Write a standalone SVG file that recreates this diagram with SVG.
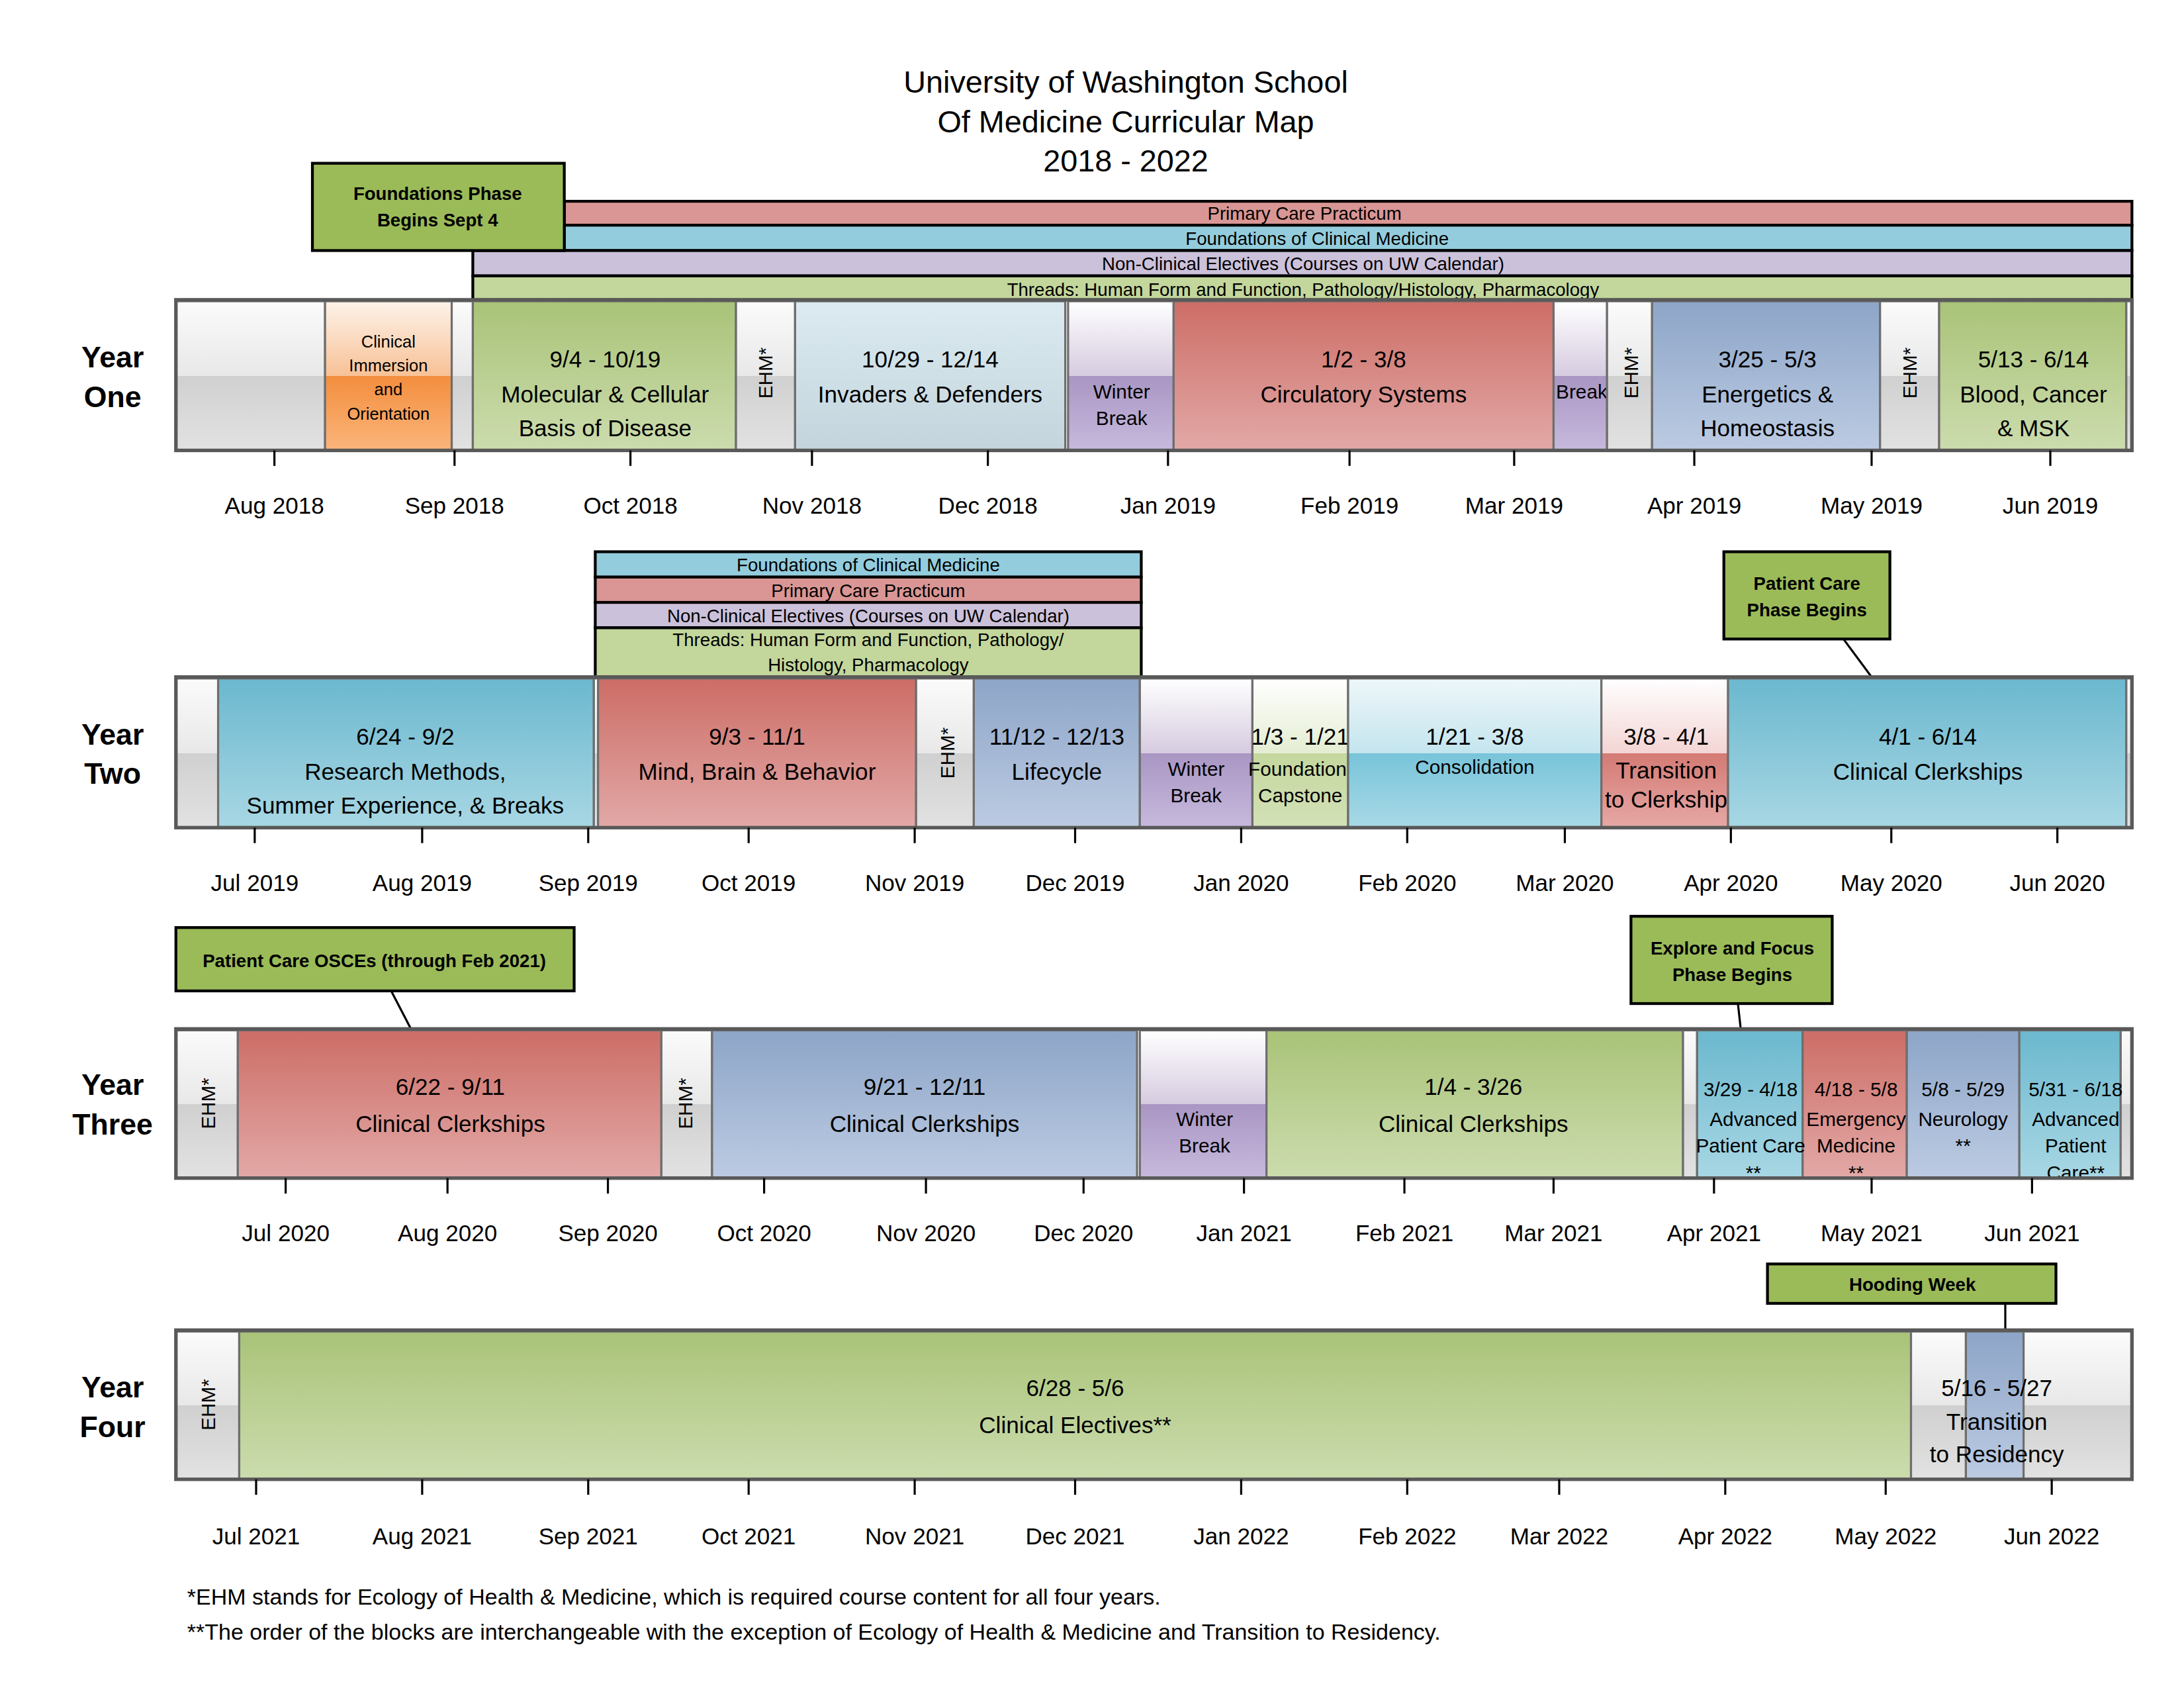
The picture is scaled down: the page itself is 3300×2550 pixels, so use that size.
<svg xmlns="http://www.w3.org/2000/svg" width="3300" height="2550" viewBox="0 0 3300 2550">
<defs>
<linearGradient id="gGray" x1="0" y1="0" x2="0" y2="1"><stop offset="0" stop-color="#fbfbfb"/><stop offset="0.5" stop-color="#e8e8e8"/><stop offset="0.5" stop-color="#d0d0d0"/><stop offset="1" stop-color="#e2e2e2"/></linearGradient>
<linearGradient id="gOrange" x1="0" y1="0" x2="0" y2="1"><stop offset="0" stop-color="#fdf3ea"/><stop offset="0.5" stop-color="#f8c196"/><stop offset="0.5" stop-color="#f38e3e"/><stop offset="1" stop-color="#fbb57b"/></linearGradient>
<linearGradient id="gGreen" x1="0" y1="0" x2="0" y2="1"><stop offset="0" stop-color="#a9c378"/><stop offset="1" stop-color="#ccdcae"/></linearGradient>
<linearGradient id="gBlueL" x1="0" y1="0" x2="0" y2="1"><stop offset="0" stop-color="#dbebf1"/><stop offset="1" stop-color="#c4d4dc"/></linearGradient>
<linearGradient id="gPurple" x1="0" y1="0" x2="0" y2="1"><stop offset="0" stop-color="#ffffff"/><stop offset="0.5" stop-color="#d6cbe0"/><stop offset="0.5" stop-color="#a996c3"/><stop offset="1" stop-color="#c7b9dd"/></linearGradient>
<linearGradient id="gRed" x1="0" y1="0" x2="0" y2="1"><stop offset="0" stop-color="#cd6d66"/><stop offset="1" stop-color="#e2a9a7"/></linearGradient>
<linearGradient id="gBlueGray" x1="0" y1="0" x2="0" y2="1"><stop offset="0" stop-color="#8da5c8"/><stop offset="1" stop-color="#bccbe2"/></linearGradient>
<linearGradient id="gBlue" x1="0" y1="0" x2="0" y2="1"><stop offset="0" stop-color="#6bb8ce"/><stop offset="1" stop-color="#a8d7e4"/></linearGradient>
<linearGradient id="gCap" x1="0" y1="0" x2="0" y2="1"><stop offset="0" stop-color="#ffffff"/><stop offset="0.5" stop-color="#e4edd2"/><stop offset="0.5" stop-color="#c4d79e"/><stop offset="1" stop-color="#d3e1b7"/></linearGradient>
<linearGradient id="gCons" x1="0" y1="0" x2="0" y2="1"><stop offset="0" stop-color="#eef7fa"/><stop offset="0.5" stop-color="#c4e5ee"/><stop offset="0.5" stop-color="#78c4da"/><stop offset="1" stop-color="#a9d9e6"/></linearGradient>
<linearGradient id="gTrans" x1="0" y1="0" x2="0" y2="1"><stop offset="0" stop-color="#ffffff"/><stop offset="0.5" stop-color="#f3d5d4"/><stop offset="0.5" stop-color="#d47a74"/><stop offset="1" stop-color="#e6a8a5"/></linearGradient>
</defs>
<style>
text{font-family:"Liberation Sans",Arial,sans-serif;fill:#000}
.t{font-size:22px}
.yl{font-size:21px;font-weight:bold}
.b{font-size:16.5px}
.s{font-size:12px}
.m{font-size:14px}
.ax{font-size:16.5px}
.band{font-size:13px}
.co{font-size:13px;font-weight:bold}
.fn{font-size:16px}
.seg{stroke:#6e6e6e;stroke-width:1.5}
.bar{fill:none;stroke:#595959;stroke-width:2.5}
.bd{stroke:#000;stroke-width:2}
.cb{fill:#9bbb59;stroke:#000;stroke-width:2}
.tick{stroke:#000;stroke-width:1.5}
.ln{stroke:#000;stroke-width:1.5;fill:none}
</style>
<g transform="scale(2.1263)">
<g id="title" text-anchor="middle"><text class="t" x="800" y="66">University of Washington School</text><text class="t" x="800" y="94">Of Medicine Curricular Map</text><text class="t" x="800" y="122">2018 - 2022</text></g>

<g id="connectors">
<line class="ln" x1="337" y1="178" x2="377" y2="213"/>
<line class="ln" x1="1310" y1="454" x2="1330" y2="481"/>
<line class="ln" x1="278" y1="704" x2="292" y2="731"/>
<line class="ln" x1="1235" y1="713" x2="1237" y2="731"/>
<line class="ln" x1="1425" y1="926" x2="1425" y2="945"/>
</g>

<!-- Year One -->
<g id="year1" text-anchor="middle">
<text class="yl" x="80" y="261">Year</text><text class="yl" x="80" y="289">One</text>
<rect class="bd" x="401" y="143" width="1114" height="17" fill="#d99694"/><text class="band" x="927" y="156">Primary Care Practicum</text>
<rect class="bd" x="401" y="160" width="1114" height="18" fill="#93cddd"/><text class="band" x="936" y="174">Foundations of Clinical Medicine</text>
<rect class="bd" x="336" y="178" width="1179" height="18" fill="#ccc1da"/><text class="band" x="926" y="192">Non-Clinical Electives (Courses on UW Calendar)</text>
<rect class="bd" x="336" y="196" width="1179" height="17" fill="#c3d69b"/><text class="band" x="926" y="210">Threads: Human Form and Function, Pathology/Histology, Pharmacology</text>
<rect class="seg" x="125" y="214" width="106" height="106" fill="url(#gGray)"/>
<rect class="seg" x="231" y="214" width="90" height="106" fill="url(#gOrange)"/>
<text class="s" x="276" y="247">Clinical</text><text class="s" x="276" y="264">Immersion</text><text class="s" x="276" y="281">and</text><text class="s" x="276" y="298">Orientation</text>
<rect class="seg" x="321" y="214" width="15" height="106" fill="url(#gGray)"/>
<rect class="seg" x="336" y="214" width="187" height="106" fill="url(#gGreen)"/>
<text class="b" x="430" y="261">9/4 - 10/19</text><text class="b" x="430" y="286">Molecular &amp; Cellular</text><text class="b" x="430" y="310">Basis of Disease</text>
<rect class="seg" x="523" y="214" width="42" height="106" fill="url(#gGray)"/>
<text class="m" transform="translate(549,265) rotate(-90)">EHM*</text>
<rect class="seg" x="565" y="214" width="192" height="106" fill="url(#gBlueL)"/>
<text class="b" x="661" y="261">10/29 - 12/14</text><text class="b" x="661" y="286">Invaders &amp; Defenders</text>
<rect class="seg" x="759" y="214" width="75" height="106" fill="url(#gPurple)"/>
<text class="m" x="797" y="283">Winter</text><text class="m" x="797" y="302">Break</text>
<rect class="seg" x="834" y="214" width="270" height="106" fill="url(#gRed)"/>
<text class="b" x="969" y="261">1/2 - 3/8</text><text class="b" x="969" y="286">Circulatory Systems</text>
<rect class="seg" x="1104" y="214" width="38" height="106" fill="url(#gPurple)"/>
<text class="m" x="1124" y="283">Break</text>
<rect class="seg" x="1142" y="214" width="32" height="106" fill="url(#gGray)"/>
<text class="m" transform="translate(1164,265) rotate(-90)">EHM*</text>
<rect class="seg" x="1174" y="214" width="162" height="106" fill="url(#gBlueGray)"/>
<text class="b" x="1256" y="261">3/25 - 5/3</text><text class="b" x="1256" y="286">Energetics &amp;</text><text class="b" x="1256" y="310">Homeostasis</text>
<rect class="seg" x="1336" y="214" width="42" height="106" fill="url(#gGray)"/>
<text class="m" transform="translate(1362,265) rotate(-90)">EHM*</text>
<rect class="seg" x="1378" y="214" width="133" height="106" fill="url(#gGreen)"/>
<text class="b" x="1445" y="261">5/13 - 6/14</text><text class="b" x="1445" y="286">Blood, Cancer</text><text class="b" x="1445" y="310">&amp; MSK</text>
<rect class="seg" x="1511" y="214" width="4" height="106" fill="url(#gGray)"/>
<rect class="bar" x="125" y="213" width="1390" height="107"/>
<g class="tick"><line x1="195" y1="320" x2="195" y2="331"/><line x1="323" y1="320" x2="323" y2="331"/><line x1="448" y1="320" x2="448" y2="331"/><line x1="577" y1="320" x2="577" y2="331"/><line x1="702" y1="320" x2="702" y2="331"/><line x1="830" y1="320" x2="830" y2="331"/><line x1="959" y1="320" x2="959" y2="331"/><line x1="1076" y1="320" x2="1076" y2="331"/><line x1="1204" y1="320" x2="1204" y2="331"/><line x1="1330" y1="320" x2="1330" y2="331"/><line x1="1457" y1="320" x2="1457" y2="331"/></g>
<text class="ax" x="195" y="365">Aug 2018</text><text class="ax" x="323" y="365">Sep 2018</text><text class="ax" x="448" y="365">Oct 2018</text><text class="ax" x="577" y="365">Nov 2018</text><text class="ax" x="702" y="365">Dec 2018</text><text class="ax" x="830" y="365">Jan 2019</text><text class="ax" x="959" y="365">Feb 2019</text><text class="ax" x="1076" y="365">Mar 2019</text><text class="ax" x="1204" y="365">Apr 2019</text><text class="ax" x="1330" y="365">May 2019</text><text class="ax" x="1457" y="365">Jun 2019</text>
</g>
<g id="callout-foundations" text-anchor="middle"><rect class="cb" x="222" y="116" width="179" height="62"/><text class="co" x="311" y="142">Foundations Phase</text><text class="co" x="311" y="161">Begins Sept 4</text></g>

<!-- Year Two -->
<g id="year2" text-anchor="middle">
<text class="yl" x="80" y="529">Year</text><text class="yl" x="80" y="557">Two</text>
<rect class="bd" x="423" y="392" width="388" height="18" fill="#93cddd"/><text class="band" x="617" y="406">Foundations of Clinical Medicine</text>
<rect class="bd" x="423" y="410" width="388" height="18" fill="#d99694"/><text class="band" x="617" y="424">Primary Care Practicum</text>
<rect class="bd" x="423" y="428" width="388" height="18" fill="#ccc1da"/><text class="band" x="617" y="442">Non-Clinical Electives (Courses on UW Calendar)</text>
<rect class="bd" x="423" y="446" width="388" height="35" fill="#c3d69b"/><text class="band" x="617" y="459">Threads: Human Form and Function, Pathology/</text><text class="band" x="617" y="477">Histology, Pharmacology</text>
<rect class="seg" x="125" y="482" width="30" height="106" fill="url(#gGray)"/>
<rect class="seg" x="155" y="482" width="267" height="106" fill="url(#gBlue)"/>
<text class="b" x="288" y="529">6/24 - 9/2</text><text class="b" x="288" y="554">Research Methods,</text><text class="b" x="288" y="578">Summer Experience, &amp; Breaks</text>
<rect class="seg" x="422" y="482" width="3" height="106" fill="url(#gGray)"/>
<rect class="seg" x="425" y="482" width="226" height="106" fill="url(#gRed)"/>
<text class="b" x="538" y="529">9/3 - 11/1</text><text class="b" x="538" y="554">Mind, Brain &amp; Behavior</text>
<rect class="seg" x="651" y="482" width="41" height="106" fill="url(#gGray)"/>
<text class="m" transform="translate(678,535) rotate(-90)">EHM*</text>
<rect class="seg" x="692" y="482" width="118" height="106" fill="url(#gBlueGray)"/>
<text class="b" x="751" y="529">11/12 - 12/13</text><text class="b" x="751" y="554">Lifecycle</text>
<rect class="seg" x="810" y="482" width="80" height="106" fill="url(#gPurple)"/>
<text class="m" x="850" y="551">Winter</text><text class="m" x="850" y="570">Break</text>
<rect class="seg" x="890" y="482" width="68" height="106" fill="url(#gCap)"/>
<text class="b" x="924" y="529">1/3 - 1/21</text><text class="m" x="922" y="551">Foundation</text><text class="m" x="924" y="570">Capstone</text>
<rect class="seg" x="958" y="482" width="180" height="106" fill="url(#gCons)"/>
<text class="b" x="1048" y="529">1/21 - 3/8</text><text class="m" x="1048" y="550">Consolidation</text>
<rect class="seg" x="1138" y="482" width="90" height="106" fill="url(#gTrans)"/>
<text class="b" x="1184" y="529">3/8 - 4/1</text><text class="b" x="1184" y="553">Transition</text><text class="b" x="1184" y="574">to Clerkship</text>
<rect class="seg" x="1228" y="482" width="283" height="106" fill="url(#gBlue)"/>
<text class="b" x="1370" y="529">4/1 - 6/14</text><text class="b" x="1370" y="554">Clinical Clerkships</text>
<rect class="seg" x="1511" y="482" width="4" height="106" fill="url(#gGray)"/>
<rect class="bar" x="125" y="481" width="1390" height="107"/>
<g class="tick"><line x1="181" y1="588" x2="181" y2="599"/><line x1="300" y1="588" x2="300" y2="599"/><line x1="418" y1="588" x2="418" y2="599"/><line x1="532" y1="588" x2="532" y2="599"/><line x1="650" y1="588" x2="650" y2="599"/><line x1="764" y1="588" x2="764" y2="599"/><line x1="882" y1="588" x2="882" y2="599"/><line x1="1000" y1="588" x2="1000" y2="599"/><line x1="1112" y1="588" x2="1112" y2="599"/><line x1="1230" y1="588" x2="1230" y2="599"/><line x1="1344" y1="588" x2="1344" y2="599"/><line x1="1462" y1="588" x2="1462" y2="599"/></g>
<text class="ax" x="181" y="633">Jul 2019</text><text class="ax" x="300" y="633">Aug 2019</text><text class="ax" x="418" y="633">Sep 2019</text><text class="ax" x="532" y="633">Oct 2019</text><text class="ax" x="650" y="633">Nov 2019</text><text class="ax" x="764" y="633">Dec 2019</text><text class="ax" x="882" y="633">Jan 2020</text><text class="ax" x="1000" y="633">Feb 2020</text><text class="ax" x="1112" y="633">Mar 2020</text><text class="ax" x="1230" y="633">Apr 2020</text><text class="ax" x="1344" y="633">May 2020</text><text class="ax" x="1462" y="633">Jun 2020</text>
</g>
<g id="callout-patientcare" text-anchor="middle"><rect class="cb" x="1225" y="392" width="118" height="62"/><text class="co" x="1284" y="419">Patient Care</text><text class="co" x="1284" y="438">Phase Begins</text></g>

<!-- Year Three -->
<g id="year3" text-anchor="middle">
<text class="yl" x="80" y="778">Year</text><text class="yl" x="80" y="806">Three</text>
<rect class="seg" x="125" y="732" width="44" height="105" fill="url(#gGray)"/>
<text class="m" transform="translate(153,784) rotate(-90)">EHM*</text>
<rect class="seg" x="169" y="732" width="301" height="105" fill="url(#gRed)"/>
<text class="b" x="320" y="778">6/22 - 9/11</text><text class="b" x="320" y="804">Clinical Clerkships</text>
<rect class="seg" x="470" y="732" width="36" height="105" fill="url(#gGray)"/>
<text class="m" transform="translate(492,784) rotate(-90)">EHM*</text>
<rect class="seg" x="506" y="732" width="302" height="105" fill="url(#gBlueGray)"/>
<text class="b" x="657" y="778">9/21 - 12/11</text><text class="b" x="657" y="804">Clinical Clerkships</text>
<rect class="seg" x="810" y="732" width="90" height="105" fill="url(#gPurple)"/>
<text class="m" x="856" y="800">Winter</text><text class="m" x="856" y="819">Break</text>
<rect class="seg" x="900" y="732" width="296" height="105" fill="url(#gGreen)"/>
<text class="b" x="1047" y="778">1/4 - 3/26</text><text class="b" x="1047" y="804">Clinical Clerkships</text>
<rect class="seg" x="1196" y="732" width="10" height="105" fill="url(#gGray)"/>
<rect class="seg" x="1206" y="732" width="75" height="105" fill="url(#gBlue)"/>
<rect class="seg" x="1281" y="732" width="74" height="105" fill="url(#gRed)"/>
<rect class="seg" x="1355" y="732" width="80" height="105" fill="url(#gBlueGray)"/>
<rect class="seg" x="1435" y="732" width="72" height="105" fill="url(#gBlue)"/>
<rect class="seg" x="1507" y="732" width="8" height="105" fill="url(#gGray)"/>
<g class="m"><text x="1244" y="779">3/29 - 4/18</text><text x="1246" y="800">Advanced</text><text x="1244" y="819">Patient Care</text><text x="1246" y="838">**</text>
<text x="1319" y="779">4/18 - 5/8</text><text x="1319" y="800">Emergency</text><text x="1319" y="819">Medicine</text><text x="1319" y="838">**</text>
<text x="1395" y="779">5/8 - 5/29</text><text x="1395" y="800">Neurology</text><text x="1395" y="819">**</text>
<text x="1475" y="779">5/31 - 6/18</text><text x="1475" y="800">Advanced</text><text x="1475" y="819">Patient</text><text x="1475" y="838">Care**</text></g>
<rect class="bar" x="125" y="731" width="1390" height="106"/>
<g class="tick"><line x1="203" y1="837" x2="203" y2="848"/><line x1="318" y1="837" x2="318" y2="848"/><line x1="432" y1="837" x2="432" y2="848"/><line x1="543" y1="837" x2="543" y2="848"/><line x1="658" y1="837" x2="658" y2="848"/><line x1="770" y1="837" x2="770" y2="848"/><line x1="884" y1="837" x2="884" y2="848"/><line x1="998" y1="837" x2="998" y2="848"/><line x1="1104" y1="837" x2="1104" y2="848"/><line x1="1218" y1="837" x2="1218" y2="848"/><line x1="1330" y1="837" x2="1330" y2="848"/><line x1="1444" y1="837" x2="1444" y2="848"/></g>
<text class="ax" x="203" y="882">Jul 2020</text><text class="ax" x="318" y="882">Aug 2020</text><text class="ax" x="432" y="882">Sep 2020</text><text class="ax" x="543" y="882">Oct 2020</text><text class="ax" x="658" y="882">Nov 2020</text><text class="ax" x="770" y="882">Dec 2020</text><text class="ax" x="884" y="882">Jan 2021</text><text class="ax" x="998" y="882">Feb 2021</text><text class="ax" x="1104" y="882">Mar 2021</text><text class="ax" x="1218" y="882">Apr 2021</text><text class="ax" x="1330" y="882">May 2021</text><text class="ax" x="1444" y="882">Jun 2021</text>
</g>
<g id="callout-osce" text-anchor="middle"><rect class="cb" x="125" y="659" width="283" height="45"/><text class="co" x="266" y="687">Patient Care OSCEs (through Feb 2021)</text></g>
<g id="callout-explore" text-anchor="middle"><rect class="cb" x="1159" y="651" width="143" height="62"/><text class="co" x="1231" y="678">Explore and Focus</text><text class="co" x="1231" y="697">Phase Begins</text></g>

<!-- Year Four -->
<g id="year4" text-anchor="middle">
<text class="yl" x="80" y="993">Year</text><text class="yl" x="80" y="1021">Four</text>
<rect class="seg" x="125" y="946" width="45" height="105" fill="url(#gGray)"/>
<text class="m" transform="translate(153,998) rotate(-90)">EHM*</text>
<rect class="seg" x="170" y="946" width="1188" height="105" fill="url(#gGreen)"/>
<text class="b" x="764" y="992">6/28 - 5/6</text><text class="b" x="764" y="1018">Clinical Electives**</text>
<rect class="seg" x="1358" y="946" width="39" height="105" fill="url(#gGray)"/>
<rect class="seg" x="1397" y="946" width="41" height="105" fill="url(#gBlueGray)"/>
<rect class="seg" x="1438" y="946" width="77" height="105" fill="url(#gGray)"/>
<text class="b" x="1419" y="992">5/16 - 5/27</text><text class="b" x="1419" y="1016">Transition</text><text class="b" x="1419" y="1039">to Residency</text>
<rect class="bar" x="125" y="945" width="1390" height="106"/>
<g class="tick"><line x1="182" y1="1051" x2="182" y2="1062"/><line x1="300" y1="1051" x2="300" y2="1062"/><line x1="418" y1="1051" x2="418" y2="1062"/><line x1="532" y1="1051" x2="532" y2="1062"/><line x1="650" y1="1051" x2="650" y2="1062"/><line x1="764" y1="1051" x2="764" y2="1062"/><line x1="882" y1="1051" x2="882" y2="1062"/><line x1="1000" y1="1051" x2="1000" y2="1062"/><line x1="1108" y1="1051" x2="1108" y2="1062"/><line x1="1226" y1="1051" x2="1226" y2="1062"/><line x1="1340" y1="1051" x2="1340" y2="1062"/><line x1="1458" y1="1051" x2="1458" y2="1062"/></g>
<text class="ax" x="182" y="1097">Jul 2021</text><text class="ax" x="300" y="1097">Aug 2021</text><text class="ax" x="418" y="1097">Sep 2021</text><text class="ax" x="532" y="1097">Oct 2021</text><text class="ax" x="650" y="1097">Nov 2021</text><text class="ax" x="764" y="1097">Dec 2021</text><text class="ax" x="882" y="1097">Jan 2022</text><text class="ax" x="1000" y="1097">Feb 2022</text><text class="ax" x="1108" y="1097">Mar 2022</text><text class="ax" x="1226" y="1097">Apr 2022</text><text class="ax" x="1340" y="1097">May 2022</text><text class="ax" x="1458" y="1097">Jun 2022</text>
</g>
<g id="callout-hooding" text-anchor="middle"><rect class="cb" x="1256" y="898" width="205" height="28"/><text class="co" x="1359" y="917">Hooding Week</text></g>

<g id="footnotes"><text class="fn" x="133" y="1140">*EHM stands for Ecology of Health &amp; Medicine, which is required course content for all four years.</text><text class="fn" x="133" y="1165">**The order of the blocks are interchangeable with the exception of Ecology of Health &amp; Medicine and Transition to Residency.</text></g>
</g>
</svg>
